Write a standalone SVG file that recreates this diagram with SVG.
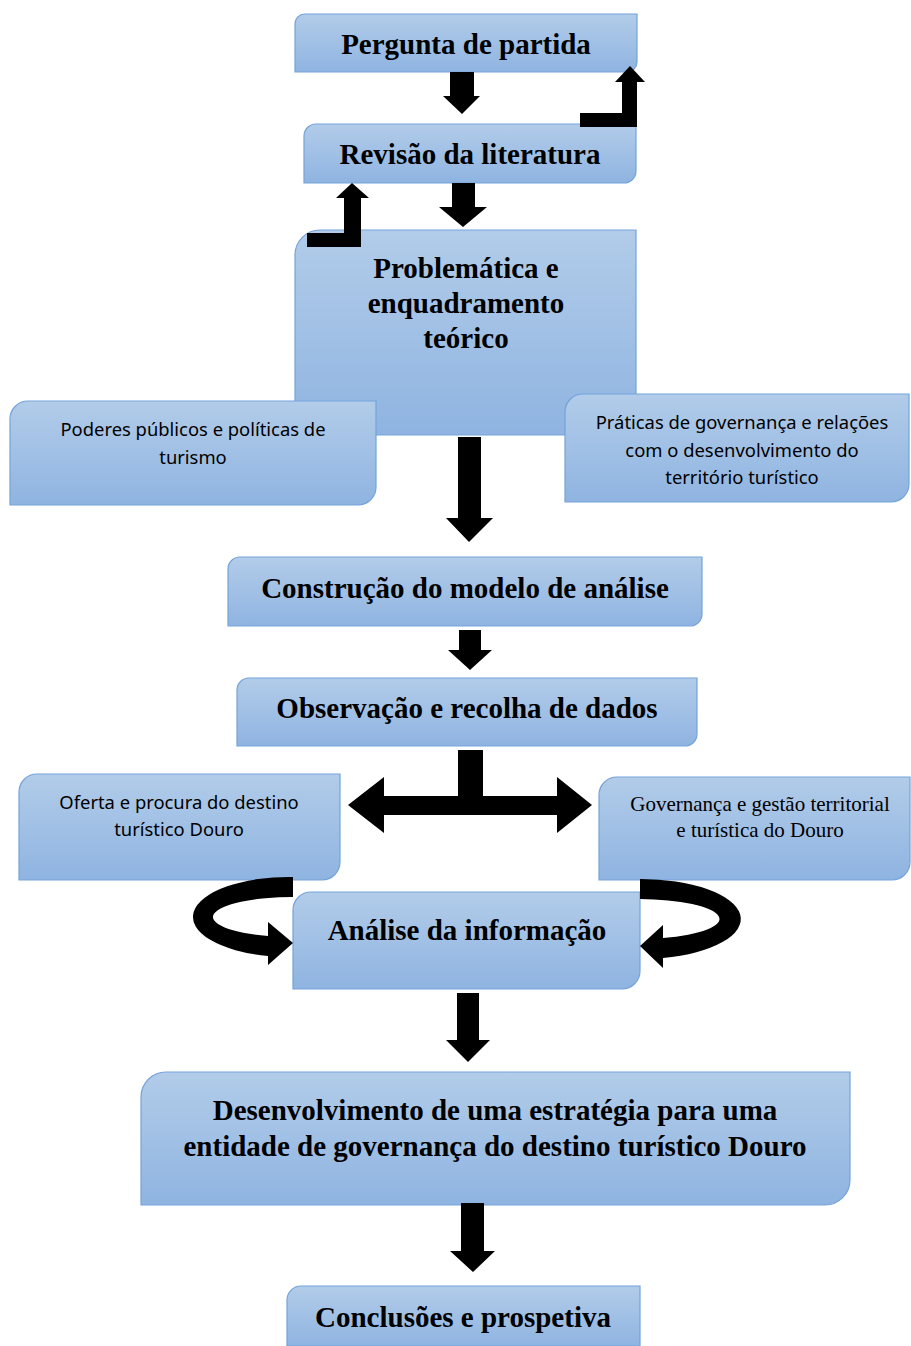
<svg xmlns="http://www.w3.org/2000/svg" width="911" height="1346" viewBox="0 0 911 1346">
<defs>
<linearGradient id="g" x1="0" y1="0" x2="0" y2="1">
<stop offset="0" stop-color="#b2cce9"/>
<stop offset="1" stop-color="#8fb4e1"/>
</linearGradient>
<style>
.box{fill:url(#g);stroke:#74a3da;stroke-width:1.2}
.t{font-family:"Liberation Serif","Times New Roman",serif;font-weight:bold;font-size:29px;fill:#000;text-anchor:middle}
.s{font-family:"Noto Sans","Open Sans",sans-serif;font-size:18.4px;fill:#000;text-anchor:middle}
.r{font-family:"Liberation Serif","Times New Roman",serif;font-size:21px;fill:#000;text-anchor:middle}
.a{fill:#000}
</style>
</defs>
<rect width="911" height="1346" fill="#fff"/>
<g id="n-pergunta">
<path class="box" d="M305 14H637V62A10 10 0 0 1 627 72H295V24A10 10 0 0 1 305 14Z"/>
<text class="t" x="466" y="54">Pergunta de partida</text>
</g>
<g id="n-revisao">
<path class="box" d="M316 124H636V171A12 12 0 0 1 624 183H304V136A12 12 0 0 1 316 124Z"/>
<text class="t" x="470" y="164">Revisão da literatura</text>
</g>
<g id="n-problematica">
<path class="box" d="M320 230H636V435H295V255A25 25 0 0 1 320 230Z"/>
<text class="t" x="466" y="278">Problemática e</text>
<text class="t" x="466" y="313">enquadramento</text>
<text class="t" x="466" y="348">teórico</text>
</g>
<g id="n-poderes">
<path class="box" d="M28 401H376V487A18 18 0 0 1 358 505H10V419A18 18 0 0 1 28 401Z"/>
<text class="s" x="193" y="436">Poderes públicos e políticas de</text>
<text class="s" x="193" y="464">turismo</text>
</g>
<g id="n-praticas">
<path class="box" d="M583 394H909V484A18 18 0 0 1 891 502H565V412A18 18 0 0 1 583 394Z"/>
<text class="s" x="742" y="429">Práticas de governança e relações</text>
<text class="s" x="742" y="457">com o desenvolvimento do</text>
<text class="s" x="742" y="484">território turístico</text>
</g>
<g id="n-construcao">
<path class="box" d="M240 557H702V614A12 12 0 0 1 690 626H228V569A12 12 0 0 1 240 557Z"/>
<text class="t" x="465" y="598">Construção do modelo de análise</text>
</g>
<g id="n-observacao">
<path class="box" d="M249 678H697V734A12 12 0 0 1 685 746H237V690A12 12 0 0 1 249 678Z"/>
<text class="t" x="467" y="718">Observação e recolha de dados</text>
</g>
<g id="n-oferta">
<path class="box" d="M37 774H340V862A18 18 0 0 1 322 880H19V792A18 18 0 0 1 37 774Z"/>
<text class="s" x="179" y="809">Oferta e procura do destino</text>
<text class="s" x="179" y="836">turístico Douro</text>
</g>
<g id="n-governanca">
<path class="box" d="M617 777H910V862A18 18 0 0 1 892 880H599V795A18 18 0 0 1 617 777Z"/>
<text class="r" x="760" y="811">Governança e gestão territorial</text>
<text class="r" x="760" y="837">e turística do Douro</text>
</g>
<g id="n-analise">
<path class="box" d="M311 892H640V971A18 18 0 0 1 622 989H293V910A18 18 0 0 1 311 892Z"/>
<text class="t" x="467" y="940">Análise da informação</text>
</g>
<g id="n-desenvolvimento">
<path class="box" d="M167 1072H850V1180A25 25 0 0 1 825 1205H141V1097A25 25 0 0 1 167 1072Z"/>
<text class="t" x="495" y="1120">Desenvolvimento de uma estratégia para uma</text>
<text class="t" x="495" y="1156">entidade de governança do destino turístico Douro</text>
</g>
<g id="n-conclusoes">
<path class="box" d="M301 1286H640V1346H287V1300A14 14 0 0 1 301 1286Z"/>
<text class="t" x="463" y="1327">Conclusões e prospetiva</text>
</g>
<g id="connectors">
<polygon class="a" points="450,72 474,72 474,96 480,96 462,114 443,96 450,96"/>
<polygon class="a" points="580,113 622,113 622,82 615,82 630,66 645,82 637,82 637,127 580,127"/>
<polygon class="a" points="452,183 475,183 475,207 487,207 463,227 439,207 452,207"/>
<polygon class="a" points="307,233 344,233 344,198 336,198 352,183 369,198 361,198 361,247 307,247"/>
<polygon class="a" points="458,437 481,437 481,518 493,518 469,542 446,518 458,518"/>
<polygon class="a" points="459,630 481,630 481,650 492,650 470,670 448,650 459,650"/>
<polygon class="a" points="458,750 483,750 483,796 557,796 557,777 592,805 557,833 557,815 384,815 384,833 348,805 384,777 384,796 458,796"/>
<path class="a" d="M293 877A96 40 0 0 0 268 956L268 965L293 943L268 922L268 936A80 20 0 0 1 293 897Z"/>
<path class="a" d="M640 879A100 40 0 0 1 663 958L663 968L640 946L663 925L663 938A82 20 0 0 0 640 899Z"/>
<polygon class="a" points="457,993 479,993 479,1040 490,1040 468,1062 446,1040 457,1040"/>
<polygon class="a" points="461,1203 484,1203 484,1251 495,1251 473,1272 450,1251 461,1251"/>
</g>
</svg>
